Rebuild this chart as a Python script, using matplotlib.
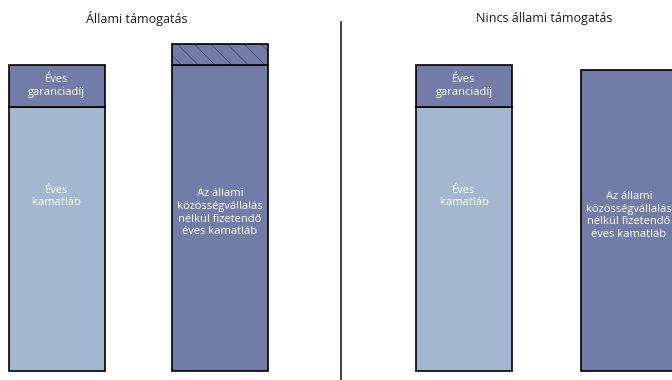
import matplotlib
matplotlib.use("Agg")
import matplotlib.pyplot as plt

plt.rcParams['font.family'] = ['Open Sans', 'DejaVu Sans']
plt.rcParams['hatch.linewidth'] = 0.4

# panel titles
panels = ["Állami támogatás", "Nincs állami támogatás"]

# values (relative units)
kamatlab = [6.29, 6.29]          # éves kamatláb
garanciadij = [1.0, 1.0]         # éves garanciadíj
nelkul = [7.29, 7.17]            # állami közösségvállalás nélküli kamatláb
nelkul_extra = [0.5, 0.0]        # hatched top, only with state support

lbl_garancia = "Éves\ngaranciadíj"
lbl_kamat = "Éves\nkamatláb"
lbl_nelkul = "Az állami\nközösségvállalás\nnélkül fizetendő\néves kamatláb"

light = "#a3b8ce"
dark = "#737ca7"

fig = plt.figure(figsize=(6.72, 3.8), dpi=100)
ax = fig.add_axes([0, 0, 1, 1])
ax.set_xlim(0, 672)
ax.set_ylim(-9 / 42, 371 / 42)
ax.axis("off")

x_left = [56.5, 464]    # bar with guarantee fee
x_right = [220, 629]    # bar without state guarantee
w = 96
fs = 8

for i in range(2):
    ax.bar(x_left[i], kamatlab[i], w, color=light, edgecolor="black", lw=1.2)
    ax.bar(x_left[i], garanciadij[i], w, bottom=kamatlab[i], color=dark,
           edgecolor="black", lw=1.2)
    ax.bar(x_right[i], nelkul[i], w, color=dark, edgecolor="black", lw=1.2)
    if nelkul_extra[i] > 0:
        # hatch in a softer grey, outline drawn on top
        ax.bar(x_right[i], nelkul_extra[i], w, bottom=nelkul[i], color=dark,
               edgecolor="#33334a", lw=0, hatch="\\\\")
        ax.bar(x_right[i], nelkul_extra[i], w, bottom=nelkul[i], fill=False,
               edgecolor="black", lw=1.2)

    ax.text(x_left[i], kamatlab[i] + garanciadij[i] / 2, lbl_garancia,
            color="white", fontsize=fs, ha="center", va="center", linespacing=1.2)
    ax.text(x_left[i], kamatlab[i] * 0.66, lbl_kamat, color="white",
            fontsize=fs, ha="center", va="center", linespacing=1.2)
    ax.text(x_right[i], nelkul[i] * 0.517, lbl_nelkul, color="white",
            fontsize=fs, ha="center", va="center", linespacing=1.2)

    ax.text((x_left[i] + x_right[i]) / 2 - 2, 8.4, panels[i], color="#1a1a1a",
            fontsize=9, ha="center", va="center")

ax.axvline(341, ymin=0, ymax=(380 - 22) / 380, color="#222222", lw=1.2)

fig.savefig("out.png", dpi=100)
